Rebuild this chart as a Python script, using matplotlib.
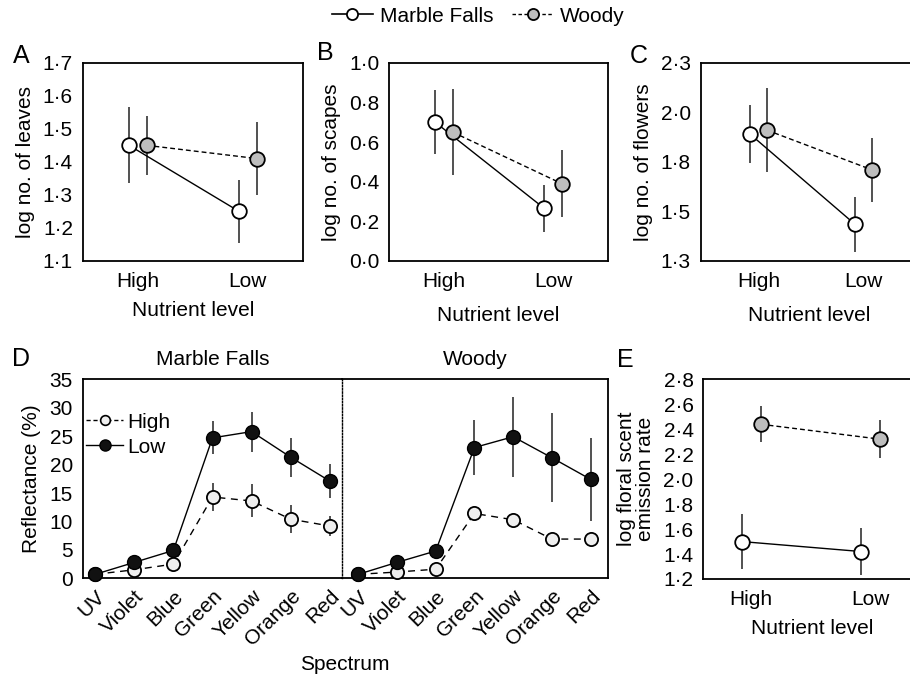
import matplotlib
matplotlib.use("Agg")
import matplotlib.pyplot as plt
from matplotlib.lines import Line2D

plt.rcParams["font.family"] = ["Liberation Sans", "DejaVu Sans"]
plt.rcParams["font.size"] = 15

# ---- data ----
nutrient = ["High", "Low"]

leaves_mf = [1.45, 1.25]
leaves_mf_err = [0.115, 0.095]
leaves_wd = [1.45, 1.41]
leaves_wd_err = [0.09, 0.11]

scapes_mf = [0.70, 0.265]
scapes_mf_err = [0.16, 0.12]
scapes_wd = [0.65, 0.39]
scapes_wd_err = [0.215, 0.17]

flowers_mf = [1.89, 1.435]
flowers_mf_err = [0.148, 0.14]
flowers_wd = [1.91, 1.71]
flowers_wd_err = [0.21, 0.16]

scent_mf = [1.50, 1.42]
scent_mf_err = [0.22, 0.19]
scent_wd = [2.44, 2.32]
scent_wd_err = [0.145, 0.15]

spectrum = ["UV", "Violet", "Blue", "Green", "Yellow", "Orange", "Red"]
mf_low = [0.7, 2.8, 4.9, 24.7, 25.8, 21.3, 17.1]
mf_low_err = [0.3, 0.5, 1.0, 2.9, 3.5, 3.4, 3.0]
mf_high = [0.7, 1.5, 2.5, 14.3, 13.6, 10.4, 9.2]
mf_high_err = [0.3, 0.4, 0.6, 2.5, 2.9, 2.5, 1.7]
wd_low = [0.7, 2.8, 4.8, 23.0, 24.9, 21.2, 17.4]
wd_low_err = [0.3, 0.5, 1.2, 4.9, 7.0, 7.8, 7.3]
wd_high = [0.7, 1.1, 1.6, 11.4, 10.3, 6.9, 6.9]
wd_high_err = [0.3, 0.3, 0.4, 0.7, 0.6, 0.4, 0.5]

W, H = 910, 674
fig = plt.figure(figsize=(W / 100, H / 100), dpi=100)


def rect(l, t, r, b):
    return [l / W, 1 - b / H, (r - l) / W, (b - t) / H]


ERR_C = "#333333"
GRAY = "#bdbdbd"
LIGHT = "#efefef"
OFF = 0.08
WD_DASH = (3.5, 2.2)
FS = 15


def style(ax):
    for s in ax.spines.values():
        s.set_linewidth(1.3)
    ax.tick_params(axis="y", length=0, pad=7, labelsize=FS)
    ax.tick_params(axis="x", length=0, pad=8, labelsize=FS)


def nutrient_panel(ax, mf, mf_err, wd, wd_err, ylim, yticks, yticklabels, ylabel,
                   xlim=(0.5, 2.5), xlabelpad=7):
    x = [1, 2]
    xm = [v - OFF for v in x]
    xw = [v + OFF for v in x]
    ax.errorbar(xm, mf, yerr=mf_err, fmt="none", ecolor=ERR_C, elinewidth=1.2, zorder=1)
    ax.errorbar(xw, wd, yerr=wd_err, fmt="none", ecolor=ERR_C, elinewidth=1.2, zorder=1)
    ax.plot(xm, mf, "-", color="black", lw=1.0, marker="o", ms=10.5, mfc="white",
            mec="black", mew=1.3, zorder=3)
    ax.plot(xw, wd, "--", dashes=WD_DASH, color="black", lw=1.0, marker="o", ms=10.5,
            mfc=GRAY, mec="black", mew=1.3, zorder=4)
    ax.set_xlim(*xlim)
    ax.set_ylim(*ylim)
    ax.set_xticks(x)
    ax.set_xticklabels(nutrient)
    ax.set_yticks(yticks)
    ax.set_yticklabels(yticklabels)
    ax.set_ylabel(ylabel, fontsize=FS, labelpad=6)
    ax.set_xlabel("Nutrient level", fontsize=FS, labelpad=xlabelpad)
    style(ax)


def dot(v):
    return f"{v:.1f}".replace(".", "\u00b7")


# A
axA = fig.add_axes(rect(82.7, 62.7, 303, 261))
ticksA = [1.1, 1.2, 1.3, 1.4, 1.5, 1.6, 1.7]
nutrient_panel(axA, leaves_mf, leaves_mf_err, leaves_wd, leaves_wd_err,
               (1.1, 1.7), ticksA, [dot(t) for t in ticksA], "log no. of leaves")

# B
axB = fig.add_axes(rect(389.3, 62.7, 607.7, 261))
ticksB = [0.0, 0.2, 0.4, 0.6, 0.8, 1.0]
nutrient_panel(axB, scapes_mf, scapes_mf_err, scapes_wd, scapes_wd_err,
               (0.0, 1.0), ticksB, [dot(t) for t in ticksB], "log no. of scapes",
               xlabelpad=11)

# C (ticks at quarter steps, labels rounded to one decimal as printed)
axC = fig.add_axes(rect(700.7, 62.7, 918, 261))
ticksC = [1.25, 1.5, 1.75, 2.0, 2.25]
labelsC = ["1\u00b73", "1\u00b75", "1\u00b78", "2\u00b70", "2\u00b73"]
nutrient_panel(axC, flowers_mf, flowers_mf_err, flowers_wd, flowers_wd_err,
               (1.25, 2.25), ticksC, labelsC, "log no. of flowers", xlim=(0.45, 2.52),
               xlabelpad=11)

# E
axE = fig.add_axes(rect(703.3, 379.3, 921, 579))
ticksE = [1.2, 1.4, 1.6, 1.8, 2.0, 2.2, 2.4, 2.6, 2.8]
nutrient_panel(axE, scent_mf, scent_mf_err, scent_wd, scent_wd_err,
               (1.2, 2.8), ticksE, [dot(t) for t in ticksE],
               "log floral scent\nemission rate", xlim=(0.6, 2.42))
axE.yaxis.label.set_linespacing(1.0)

# D: two adjacent panels split by a dotted line
axD1 = fig.add_axes(rect(82.7, 379.3, 342.3, 578.3))
axD2 = fig.add_axes(rect(342.3, 379.3, 607.7, 578.3))
xs = list(range(len(spectrum)))
for ax, low, low_err, high, high_err, title in [
        (axD1, mf_low, mf_low_err, mf_high, mf_high_err, "Marble Falls"),
        (axD2, wd_low, wd_low_err, wd_high, wd_high_err, "Woody")]:
    ax.errorbar(xs, high, yerr=high_err, fmt="none", ecolor=ERR_C, elinewidth=1.2, zorder=1)
    ax.errorbar(xs, low, yerr=low_err, fmt="none", ecolor=ERR_C, elinewidth=1.2, zorder=2)
    ax.plot(xs, high, "--", dashes=(5, 4), color="black", lw=1.0, marker="o", ms=9.5,
            mfc=LIGHT, mec="black", mew=1.3, zorder=3, clip_on=False)
    ax.plot(xs, low, "-", color="black", lw=1.0, marker="o", ms=10, mfc="#111111",
            mec="black", mew=1.0, zorder=4, clip_on=False)
    ax.set_ylim(0, 35)
    ax.set_yticks([0, 5, 10, 15, 20, 25, 30, 35])
    ax.set_xticks(xs)
    ax.set_xticklabels(spectrum, rotation=45, ha="right", rotation_mode="anchor")
    ax.set_title(title, fontsize=FS, pad=10)
    style(ax)
    ax.tick_params(axis="x", pad=6)

axD1.set_xlim(-0.32, 6.32)
axD2.set_xlim(-0.41, 6.44)
axD1.spines["right"].set_visible(False)
axD2.spines["left"].set_linestyle((0, (1, 1.3)))
axD2.spines["left"].set_linewidth(1.0)
axD2.tick_params(axis="y", left=False, labelleft=False)
axD1.set_ylabel("Reflectance (%)", fontsize=FS, labelpad=6)
fig.text(345 / W, 1 - 664 / H, "Spectrum", ha="center", va="center", fontsize=FS)

leg_d = [Line2D([], [], ls="--", dashes=(3, 2), color="black", lw=1.0, marker="o", ms=7,
                mfc=LIGHT, mec="black", mew=1.2),
         Line2D([], [], ls="-", color="black", lw=1.0, marker="o", ms=8, mfc="#111111",
                mec="black")]
axD1.legend(leg_d, ["High", "Low"], loc="upper left", bbox_to_anchor=(-0.02, 0.875),
            frameon=False, fontsize=FS, handlelength=1.8, handletextpad=0.2,
            labelspacing=0.3, borderaxespad=0)

# top legend
top_handles = [Line2D([], [], ls="-", color="black", lw=1.2, marker="o", ms=8,
                      mfc="white", mec="black", mew=1.3),
               Line2D([], [], ls="--", dashes=(2.5, 1.8), color="black", lw=1.0, marker="o",
                      ms=8, mfc=GRAY, mec="black", mew=1.3)]
fig.legend(top_handles, ["Marble Falls", "Woody"], loc="center", ncol=2,
           bbox_to_anchor=(478 / W, 1 - 16 / H), frameon=False, fontsize=FS,
           handlelength=2.0, handletextpad=0.3, columnspacing=0.9)

# panel letters
for letter, px, py in [("A", 21, 56), ("B", 325, 53), ("C", 639, 56), ("D", 21, 359), ("E", 625, 360)]:
    fig.text(px / W, 1 - py / H, letter, ha="center", va="center", fontsize=18)

fig.savefig("out.png", dpi=100)
